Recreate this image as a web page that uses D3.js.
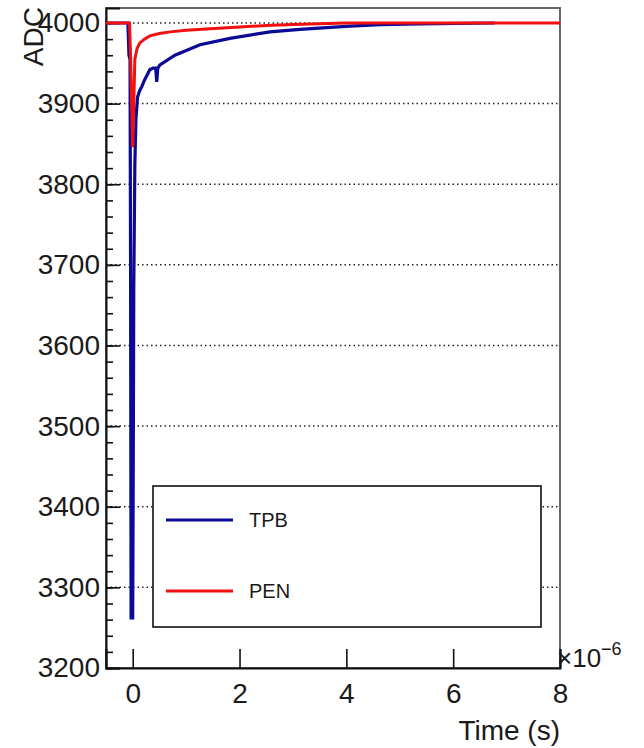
<!DOCTYPE html>
<html lang="en">
  <head>
    <meta charset="UTF-8">
    <title>ADC vs Time</title>
    <script src="https://d3js.org/d3.v7.min.js"></script>
    <style>
      body { margin: 0; background-color: white; }
      text { font-family: "Liberation Sans", Arial, Helvetica, sans-serif; fill: #1a1a1a; }
    </style>
  </head>
  <body>
    <script>
      // time in units of 1e-6 s, ADC counts
      const tpbTime = [-0.5, -0.09, -0.07, -0.05, -0.04, -0.03, 0.0, 0.01, 0.02, 0.04, 0.06, 0.09, 0.13, 0.17, 0.22, 0.32, 0.38, 0.43, 0.45, 0.47, 0.51, 0.79, 1.26, 1.82, 2.57, 3.13, 4.07, 4.63, 5.38, 6.78];
      const tpbAdc  = [4000, 4000, 3960, 3955, 3700, 3262, 3262, 3450, 3670, 3824, 3880, 3908, 3916, 3921, 3929, 3942, 3944, 3944, 3927, 3944, 3948, 3960, 3973, 3981, 3989, 3992, 3996, 3998, 3999, 4000];

      const penTime = [-0.5, -0.06, -0.04, -0.02, 0.0, 0.02, 0.04, 0.08, 0.13, 0.22, 0.32, 0.5, 0.7, 1.0, 1.45, 2.0, 2.5, 3.0, 4.0, 8.0];
      const penAdc  = [4000, 4000, 3960, 3900, 3846, 3900, 3955, 3968, 3975, 3980, 3984, 3987, 3989, 3991, 3993, 3995, 3997, 3998, 4000, 4000];

      const xTicks = [0, 2, 4, 6, 8];
      const yTicks = [3200, 3300, 3400, 3500, 3600, 3700, 3800, 3900, 4000];
      const yMinor = d3.range(3200, 4001, 20);

      const seriesNames = ["TPB", "PEN"];
      const seriesColors = ["#0a0a96", "#f01010"];

      const w = 644, h = 748;
      const mLeft = 106, mRight = 560, mTop = 8, mBottom = 668;

      const svg = d3.select("body").append("svg")
                    .attr("width", w)
                    .attr("height", h);

      const x = d3.scaleLinear().domain([-0.5, 8]).range([mLeft, mRight]);
      const y = d3.scaleLinear().domain([3200, 4018.6]).range([mBottom, mTop]);

      // dotted horizontal grid
      svg.append("g")
         .selectAll("line")
         .data(yTicks)
         .enter()
         .append("line")
         .attr("x1", mLeft)
         .attr("x2", mRight)
         .attr("y1", d => y(d))
         .attr("y2", d => y(d))
         .attr("stroke", "#222")
         .attr("stroke-width", 1.5)
         .attr("stroke-dasharray", "1.5,3");

      // frame
      svg.append("rect")
         .attr("x", mLeft)
         .attr("y", mTop)
         .attr("width", mRight - mLeft)
         .attr("height", mBottom - mTop)
         .attr("fill", "none")
         .attr("stroke", "#666")
         .attr("stroke-width", 2);

      // y axis
      const yAxis = svg.append("g")
         .attr("transform", `translate(${mLeft},0)`)
         .call(d3.axisLeft(y).tickValues(yTicks).tickSize(-14).tickPadding(6).tickFormat(d3.format("d")));
      svg.append("g")
         .attr("transform", `translate(${mLeft},0)`)
         .call(d3.axisLeft(y).tickValues(yMinor).tickSize(-7).tickFormat(""))
         .select(".domain").remove();

      // x axis
      const xAxis = svg.append("g")
         .attr("transform", `translate(0,${mBottom})`)
         .call(d3.axisBottom(x).tickValues(xTicks).tickSize(-19).tickPadding(15).tickFormat(d3.format("d")));

      [yAxis, xAxis].forEach(a => {
        a.select(".domain").attr("stroke", "#111").attr("stroke-width", 2);
        a.selectAll("text").style("font-size", "28px").attr("fill", "#1a1a1a");
      });
      svg.selectAll(".tick line").attr("stroke", "#111").attr("stroke-width", 1.6);

      // series
      const line = d3.line().x(d => x(d[0])).y(d => y(d[1]));
      const tpb = d3.zip(tpbTime, tpbAdc);
      const pen = d3.zip(penTime, penAdc);

      svg.append("path")
         .datum(tpb)
         .attr("d", line)
         .attr("fill", "none")
         .attr("stroke", seriesColors[0])
         .attr("stroke-width", 3.2);

      svg.append("path")
         .datum(pen)
         .attr("d", line)
         .attr("fill", "none")
         .attr("stroke", seriesColors[1])
         .attr("stroke-width", 3);

      // axis titles
      svg.append("text")
         .attr("transform", "translate(43,7) rotate(-90)")
         .style("text-anchor", "end")
         .style("font-size", "28px")
         .text("ADC");

      svg.append("text")
         .attr("x", mRight)
         .attr("y", 740)
         .style("text-anchor", "end")
         .style("font-size", "28px")
         .text("Time (s)");

      const expo = svg.append("text")
         .attr("x", 557)
         .attr("y", 667)
         .style("font-size", "26px");
      expo.append("tspan").text("×10");
      expo.append("tspan").attr("dy", -12).style("font-size", "18px").text("−6");

      // legend
      const leg = svg.append("g");
      leg.append("rect")
         .attr("x", 153)
         .attr("y", 486)
         .attr("width", 388)
         .attr("height", 141)
         .attr("fill", "white")
         .attr("stroke", "#111")
         .attr("stroke-width", 1.6);

      const legY = [520, 591];
      seriesNames.forEach((name, i) => {
        leg.append("line")
           .attr("x1", 166)
           .attr("x2", 233)
           .attr("y1", legY[i])
           .attr("y2", legY[i])
           .attr("stroke", seriesColors[i])
           .attr("stroke-width", 3);
        leg.append("text")
           .attr("x", 249)
           .attr("y", legY[i] + 7)
           .style("font-size", "20px")
           .text(name);
      });
    </script>
  </body>
</html>
